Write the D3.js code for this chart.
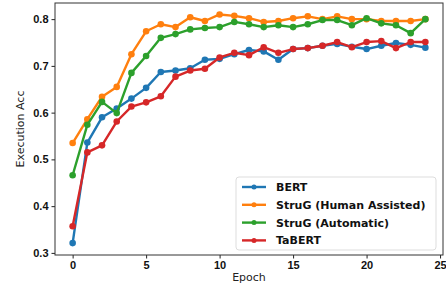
<!DOCTYPE html>
<html>
<head>
<meta charset="utf-8">
<script src="https://cdn.jsdelivr.net/npm/d3@7"></script>
<style>
  html, body { margin: 0; padding: 0; background: #fff; }
  svg { display: block; font-family: "DejaVu Sans", sans-serif; }
</style>
</head>
<body>
<div id="chart"></div>
<script>
// Epochs and accuracies
const epochs = d3.range(0, 25);
const bert = [0.321, 0.536, 0.590, 0.609, 0.630, 0.653, 0.687, 0.690, 0.695, 0.713, 0.715, 0.725,
  0.734, 0.731, 0.713, 0.736, 0.738, 0.743, 0.747, 0.741, 0.736, 0.743, 0.749, 0.745, 0.739];
const strugHuman = [0.535, 0.586, 0.634, 0.655, 0.725, 0.774, 0.789, 0.783, 0.804, 0.796, 0.810, 0.807,
  0.802, 0.794, 0.796, 0.802, 0.806, 0.800, 0.806, 0.800, 0.800, 0.796, 0.796, 0.796, 0.800];
const strugAuto = [0.466, 0.574, 0.623, 0.599, 0.685, 0.721, 0.760, 0.768, 0.778, 0.781, 0.783, 0.794,
  0.789, 0.783, 0.787, 0.783, 0.789, 0.798, 0.798, 0.787, 0.802, 0.791, 0.787, 0.770, 0.800];
const tabert = [0.357, 0.515, 0.530, 0.581, 0.613, 0.622, 0.635, 0.677, 0.690, 0.694, 0.718, 0.728,
  0.723, 0.740, 0.728, 0.736, 0.738, 0.743, 0.751, 0.740, 0.751, 0.753, 0.738, 0.751, 0.751];

const seriesNames = ["BERT", "StruG (Human Assisted)", "StruG (Automatic)", "TaBERT"];
const seriesColors = ["#1f77b4", "#ff7f0e", "#2ca02c", "#d62728"];
const xTicks = [0, 5, 10, 15, 20, 25];
const yTicks = [0.3, 0.4, 0.5, 0.6, 0.7, 0.8];

const W = 446, H = 286;
const margin = { top: 3, right: 3, bottom: 31, left: 55 };
const width = W - margin.left - margin.right;
const height = H - margin.top - margin.bottom;

const svg = d3.select("#chart").append("svg")
  .attr("width", W)
  .attr("height", H);

const g = svg.append("g")
  .attr("transform", `translate(${margin.left},${margin.top})`);

const x = d3.scaleLinear().domain([-1.2, 25.2]).range([0, width]);
const y = d3.scaleLinear().domain([0.2955, 0.8345]).range([height, 0]);

// Axes
const xAxis = g.append("g")
  .attr("transform", `translate(0,${height})`)
  .call(d3.axisBottom(x).tickValues(xTicks).tickSize(3.5).tickPadding(3).tickFormat(d3.format("d")));
const yAxis = g.append("g")
  .call(d3.axisLeft(y).tickValues(yTicks).tickSize(3.5).tickPadding(3).tickFormat(d3.format(".1f")));

[xAxis, yAxis].forEach((a) => {
  a.select(".domain").remove();
  a.selectAll("text")
    .attr("font-size", "11px")
    .attr("font-weight", "bold")
    .attr("fill", "#111");
  a.selectAll("line").attr("stroke", "#222");
});

// Frame
g.append("rect")
  .attr("width", width)
  .attr("height", height)
  .attr("fill", "none")
  .attr("stroke", "#333")
  .attr("stroke-width", 1);

// Lines
const allSeries = [bert, strugHuman, strugAuto, tabert];
const line = d3.line()
  .x((d, i) => x(epochs[i]))
  .y((d) => y(d));

allSeries.forEach((vals, k) => {
  g.append("path")
    .datum(vals)
    .attr("fill", "none")
    .attr("stroke", seriesColors[k])
    .attr("stroke-width", 2.4)
    .attr("stroke-linejoin", "round")
    .attr("d", line);
  g.selectAll(null)
    .data(vals)
    .enter()
    .append("circle")
    .attr("cx", (d, i) => x(epochs[i]))
    .attr("cy", (d) => y(d))
    .attr("r", 3.3)
    .attr("fill", seriesColors[k]);
});

// Axis labels
svg.append("text")
  .attr("x", margin.left + width / 2)
  .attr("y", 281)
  .attr("text-anchor", "middle")
  .attr("font-size", "11px")
  .attr("fill", "#222")
  .text("Epoch");

svg.append("text")
  .attr("transform", `translate(24,${margin.top + height / 2}) rotate(-90)`)
  .attr("text-anchor", "middle")
  .attr("font-size", "11px")
  .attr("fill", "#222")
  .text("Execution Acc");

// Legend
const legend = svg.append("g").attr("transform", "translate(236,177)");
legend.append("rect")
  .attr("width", 200)
  .attr("height", 73)
  .attr("rx", 3)
  .attr("fill", "#fff")
  .attr("fill-opacity", 0.8)
  .attr("stroke", "#ddd");

seriesNames.forEach((name, k) => {
  const ly = 10 + k * 17.8;
  legend.append("line")
    .attr("x1", 6).attr("x2", 30)
    .attr("y1", ly).attr("y2", ly)
    .attr("stroke", seriesColors[k])
    .attr("stroke-width", 2.4);
  legend.append("circle")
    .attr("cx", 18).attr("cy", ly).attr("r", 2.5)
    .attr("fill", seriesColors[k]);
  legend.append("text")
    .attr("x", 40)
    .attr("y", ly)
    .attr("dy", "0.36em")
    .attr("font-size", "11px")
    .attr("font-weight", "bold")
    .attr("fill", "#111")
    .text(name);
});
</script>
</body>
</html>
